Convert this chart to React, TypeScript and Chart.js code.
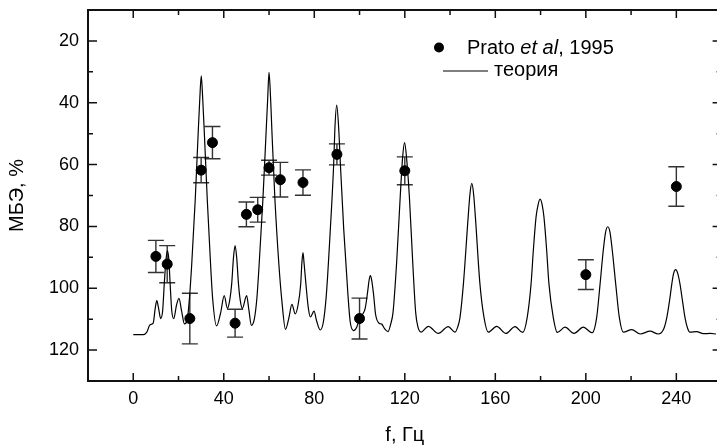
import React, { useEffect, useRef } from "react";
import { Chart, registerables } from "chart.js";

Chart.register(...registerables);

// ---- Data ----
const theoryF = [
  0, 4.4, 6.0, 7.4, 8.8, 9.7, 10.4, 11.2, 12.1, 13.0, 13.7, 14.5, 15.1, 15.7, 16.3, 17.0, 17.9, 19.1, 20.2, 21.4,
  22.6, 23.8, 24.8, 25.8, 27.4, 28.7, 29.4, 30.05, 30.7, 31.4, 32.7, 34.2, 35.1, 36.8, 38.6, 40.2, 41.6, 42.6,
  43.5, 44.3, 45.0, 45.7, 46.5, 47.3, 48.2, 50.1, 51.1, 52.2, 53.5, 54.6, 55.6, 57.3, 58.7, 59.4, 60.0, 60.7,
  61.3, 62.6, 64.4, 65.6, 67.3, 68.8, 70.1, 71.6, 72.8, 74.0, 74.5, 75.0, 75.5, 76.3, 77.3, 78.3, 79.9, 81.0,
  82.6, 84.0, 85.3, 87.1, 88.6, 89.1, 89.9, 90.8, 91.5, 93.0, 94.9, 95.9, 97.4, 98.8, 100.0, 101.3, 102.5,
  103.6, 104.2, 104.8, 105.4, 106.2, 107.1, 108.6, 109.8, 111.0, 112.6, 113.8, 114.8, 116.4, 118.0, 119.0,
  119.9, 120.8, 122.0, 123.5, 124.8, 125.8, 127.2, 130.4, 134.8, 139.2, 142.2, 143.4, 144.4, 145.9, 148.0,
  148.8, 149.6, 150.4, 151.2, 153.2, 155.0, 156.9, 160.6, 164.7, 168.7, 172.1, 174.1, 175.8, 176.8, 178.0,
  178.9, 179.8, 180.7, 181.5, 182.7, 183.7, 185.6, 187.4, 190.8, 194.8, 198.9, 202.8, 204.8, 206.3, 207.7,
  208.7, 209.7, 210.7, 211.7, 213.2, 214.8, 216.6, 220.3, 224.0, 228.4, 232.0, 234.5, 235.8, 237.0, 238.0,
  238.8, 239.7, 240.6, 241.6, 242.7, 243.8, 245.0, 246.0, 249.0, 251.9, 254.9, 257.5,
];
const theoryV = [
  115.0, 115.0, 114.2, 111.8, 111.3, 106.5, 104.0, 106.5, 109.8, 107.2, 98.6, 90.5, 87.9, 90.5, 98.6, 107.2, 109.8, 105.5, 103.3, 107.5,
  111.5, 110.5, 103.5, 92.7, 71.2, 49.6, 38.8, 31.3, 38.8, 49.6, 71.2, 92.7, 103.5, 112.2, 108.0, 102.4, 106.5, 104.0,
  98.6, 90.0, 86.2, 90.0, 98.6, 104.0, 106.5, 102.4, 107.0, 112.0, 110.0, 103.5, 92.7, 71.2, 49.6, 38.8, 30.2, 38.8,
  49.6, 71.2, 92.7, 103.5, 113.3, 109.5, 105.2, 108.3, 105.5, 98.6, 92.0, 88.5, 92.0, 98.6, 106.0, 109.3, 107.4, 110.5,
  113.5, 111.0, 102.4, 80.8, 59.3, 48.5, 40.8, 48.5, 59.3, 80.8, 102.4, 111.0, 113.7, 112.5, 109.8, 108.5, 106.5,
  101.0, 97.5, 95.9, 97.5, 102.0, 108.5, 111.3, 111.6, 113.0, 114.0, 111.5, 107.8, 91.6, 70.1, 58.0,
  52.9, 58.0, 70.1, 91.6, 107.8, 112.5, 114.2, 112.3, 114.6, 112.4, 114.2, 112.5, 109.4, 98.6, 77.0,
  69.5, 66.1, 69.5, 77.0, 98.6, 109.4, 114.2, 112.3, 114.6, 112.4, 114.3, 109.4, 98.6, 87.8, 77.0,
  73.0, 71.2, 73.0, 77.0, 87.8, 98.6, 109.4, 114.3, 112.6, 114.6, 112.6, 114.4, 109.4, 98.6, 87.8,
  82.0, 80.1, 82.0, 87.8, 98.6, 109.4, 114.2, 113.4, 114.8, 113.9, 114.8, 113.0, 109.4, 104.0, 98.6,
  95.2, 94.0, 95.2, 98.6, 104.0, 109.4, 113.0, 114.2, 114.0, 114.7, 114.6, 114.8,
];

const pratoF = [10, 15, 25, 30, 35, 45, 50, 55, 60, 65, 75, 90, 100, 120, 200, 240];
const pratoV = [89.7, 92.2, 109.8, 61.8, 52.9, 111.3, 76.1, 74.6, 61.0, 64.9, 65.8, 56.7, 109.8, 62.0, 95.6, 67.1];
const pratoErr = [5.2, 6.0, 8.2, 4.1, 5.2, 4.5, 4.0, 4.0, 2.4, 5.6, 4.1, 3.4, 6.6, 4.5, 4.8, 6.4];

const xMajorTicks = [0, 40, 80, 120, 160, 200, 240];
const xMinorTicks = [20, 60, 100, 140, 180, 220];
const yMajorTicks = [20, 40, 60, 80, 100, 120];
const yMinorTicks = [30, 50, 70, 90, 110];

const xTitle = "f, Гц";
const yTitle = "МБЭ, %";
const legendPratoParts = ["Prato ", "et al", ", 1995"];
const legendTheory = "теория";

const FONT = "'Liberation Sans', Arial, Helvetica, sans-serif";

const framePlugin = {
  id: "frame",
  beforeDatasetsDraw(chart: any) {
    const { ctx } = chart;
    const xs = chart.scales.x;
    const ys = chart.scales.y;
    ctx.save();
    ctx.strokeStyle = "#333";
    ctx.lineWidth = 1.4;
    pratoF.forEach((f, i) => {
      const x = xs.getPixelForValue(f);
      const yTop = ys.getPixelForValue(pratoV[i] - pratoErr[i]);
      const yBot = ys.getPixelForValue(pratoV[i] + pratoErr[i]);
      ctx.beginPath();
      ctx.moveTo(x, yTop);
      ctx.lineTo(x, yBot);
      ctx.moveTo(x - 8, yTop);
      ctx.lineTo(x + 8, yTop);
      ctx.moveTo(x - 8, yBot);
      ctx.lineTo(x + 8, yBot);
      ctx.stroke();
    });
    ctx.restore();
  },
  afterDraw(chart: any) {
    const { ctx, chartArea: a } = chart;
    const xs = chart.scales.x;
    const ys = chart.scales.y;
    ctx.save();
    ctx.strokeStyle = "#111";
    ctx.lineWidth = 2;
    ctx.strokeRect(a.left, a.top, a.right - a.left, a.bottom - a.top);

    ctx.lineWidth = 1.5;
    ctx.beginPath();
    const xt = (v: number, len: number) => {
      const x = xs.getPixelForValue(v);
      ctx.moveTo(x, a.bottom);
      ctx.lineTo(x, a.bottom - len);
      ctx.moveTo(x, a.top);
      ctx.lineTo(x, a.top + len);
    };
    const yt = (v: number, len: number) => {
      const y = ys.getPixelForValue(v);
      ctx.moveTo(a.left, y);
      ctx.lineTo(a.left + len, y);
      ctx.moveTo(a.right, y);
      ctx.lineTo(a.right - len, y);
    };
    xMajorTicks.forEach((v) => xt(v, 8));
    xMinorTicks.forEach((v) => xt(v, 5));
    yMajorTicks.forEach((v) => yt(v, 9));
    yMinorTicks.forEach((v) => yt(v, 5));
    ctx.stroke();

    // legend
    ctx.fillStyle = "#000";
    ctx.beginPath();
    ctx.arc(439, 47.5, 5, 0, Math.PI * 2);
    ctx.fill();
    ctx.textBaseline = "alphabetic";
    ctx.textAlign = "left";
    let x = 467;
    const y1 = 53.5;
    legendPratoParts.forEach((t, i) => {
      ctx.font = (i === 1 ? "italic " : "") + "20px " + FONT;
      ctx.fillText(t, x, y1);
      x += ctx.measureText(t).width;
    });
    ctx.strokeStyle = "#000";
    ctx.lineWidth = 1.2;
    ctx.beginPath();
    ctx.moveTo(443, 71);
    ctx.lineTo(488, 71);
    ctx.stroke();
    ctx.font = "20px " + FONT;
    ctx.fillText(legendTheory, 494, 76);
    ctx.restore();
  },
};

export default function App() {
  const ref = useRef<HTMLCanvasElement | null>(null);
  useEffect(() => {
    if (!ref.current) return;
    const chart = new Chart(ref.current, {
      type: "scatter",
      data: {
        datasets: [
          {
            label: legendTheory,
            data: theoryF.map((f, i) => ({ x: f, y: theoryV[i] })),
            showLine: true,
            borderColor: "#000",
            borderWidth: 1.2,
            pointRadius: 0,
            cubicInterpolationMode: "monotone",
            fill: false,
          } as any,
          {
            label: "Prato et al, 1995",
            data: pratoF.map((f, i) => ({ x: f, y: pratoV[i] })),
            showLine: false,
            backgroundColor: "#000",
            borderColor: "#000",
            pointRadius: 5,
            pointHoverRadius: 5,
          },
        ],
      },
      options: {
        animation: false,
        responsive: false,
        events: [],
        layout: { padding: { left: 0, top: 10, right: 8.4, bottom: 0 } },
        plugins: { legend: { display: false }, tooltip: { enabled: false } },
        scales: {
          x: {
            type: "linear",
            min: -20,
            max: 260,
            grid: { display: false, drawTicks: false },
            border: { display: false },
            afterBuildTicks: (s: any) => {
              s.ticks = xMajorTicks.map((v) => ({ value: v }));
            },
            afterFit: (s: any) => {
              s.height = 64;
              s.paddingLeft = 0;
              s.paddingRight = 0;
            },
            ticks: {
              color: "#000",
              padding: 7,
              maxRotation: 0,
              autoSkip: false,
              font: { family: FONT, size: 18 },
            },
            title: {
              display: true,
              text: xTitle,
              color: "#000",
              padding: { top: 0, bottom: 0 },
              font: { family: FONT, size: 20, lineHeight: 1 },
            },
          },
          y: {
            type: "linear",
            min: 10,
            max: 130,
            reverse: true,
            grid: { display: false, drawTicks: false },
            border: { display: false },
            afterBuildTicks: (s: any) => {
              s.ticks = yMajorTicks.map((v) => ({ value: v }));
            },
            afterFit: (s: any) => {
              s.width = 88;
              s.paddingTop = 0;
              s.paddingBottom = 0;
            },
            ticks: {
              color: "#000",
              padding: 9,
              autoSkip: false,
              font: { family: FONT, size: 18 },
            },
            title: {
              display: true,
              text: yTitle,
              color: "#000",
              padding: { top: 7, bottom: 0 },
              font: { family: FONT, size: 20, lineHeight: 1 },
            },
          },
        },
      },
      plugins: [framePlugin],
    });
    return () => chart.destroy();
  }, []);

  return (
    <div
      style={{
        position: "fixed",
        left: 0,
        top: 0,
        width: 717,
        height: 445,
        overflow: "hidden",
        background: "#fff",
      }}
    >
      <canvas ref={ref} width={730} height={445} style={{ width: 730, height: 445, display: "block" }} />
    </div>
  );
}
